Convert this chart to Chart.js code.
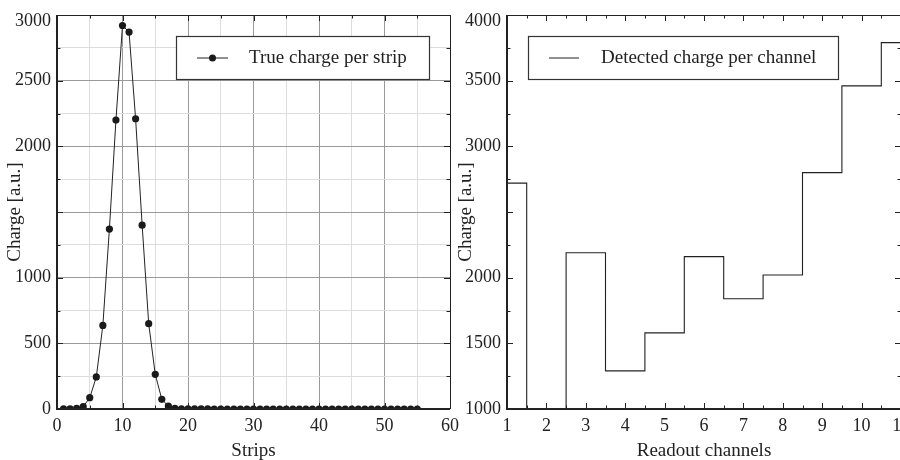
<!DOCTYPE html>
<html>
<head>
<meta charset="utf-8">
<script src="https://cdn.jsdelivr.net/npm/chart.js@4.4.1/dist/chart.umd.min.js"></script>
<style>
  html, body { margin: 0; padding: 0; background: #fff; }
  #wrap { position: relative; width: 900px; height: 460px; overflow: hidden; background: #fff; }
  #left { position: absolute; left: 0; top: 0; }
  #right { position: absolute; left: 455px; top: 0; }
</style>
</head>
<body>
<div id="wrap">
  <canvas id="left" width="460" height="460"></canvas>
  <canvas id="right" width="460" height="460"></canvas>
</div>
<script>
// ---- Left panel: true charge per strip ----
const strips = [1, 2, 3, 4, 5, 6, 7, 8, 9, 10, 11, 12, 13, 14, 15, 16, 17, 18, 19, 20,
                21, 22, 23, 24, 25, 26, 27, 28, 29, 30, 31, 32, 33, 34, 35, 36, 37, 38, 39, 40,
                41, 42, 43, 44, 45, 46, 47, 48, 49, 50, 51, 52, 53, 54, 55];
const trueCharge = [1, 2, 5, 18, 86, 244, 636, 1370, 2200, 2920, 2870, 2210, 1400, 650, 264, 74, 22, 4, 2, 1,
                    1, 1, 1, 0, 0, 0, 0, 0, 0, 0, 0, 0, 0, 0, 0, 0, 0, 0, 0, 0,
                    0, 0, 0, 0, 0, 0, 0, 0, 0, 0, 0, 0, 0, 0, 0];
const stripTickLabels = [0, 10, 20, 30, 40, 50, 60];
const leftChargeTickLabels = [0, 500, 1000, 2000, 2500, 3000];

// ---- Right panel: detected charge per readout channel ----
const channels = [1, 2, 3, 4, 5, 6, 7, 8, 9, 10, 11];
const detectedCharge = [2720, 0, 2190, 1290, 1580, 2160, 1840, 2020, 2800, 3460, 3790];
const channelTickLabels = [1, 2, 3, 4, 5, 6, 7, 8, 9, 10, 11];
const rightChargeTickLabels = [1000, 1500, 2000, 3000, 3500, 4000];

const SERIF = '"Liberation Serif", "Times New Roman", serif';
const INK = '#222';
Chart.defaults.font.family = SERIF;
Chart.defaults.color = INK;

const near = (v, step) => Math.abs(v / step - Math.round(v / step)) < 1e-6;

// Keep the plot area fixed: axis boxes have set sizes and no edge padding for end labels
const fixX = h => s => { s.height = h; s.paddingLeft = 0; s.paddingRight = 0; };
const fixY = w => s => { s.width = w; s.paddingTop = 0; s.paddingBottom = 0; };

// y tick labels; the label at the top of the axis sits just below the frame edge
const yLabel = (shown, top) => v => {
  if (!shown.includes(v)) return '';
  return v === top ? ['', String(v)] : String(v);
};
const yFont = top => c => (c.tick && c.tick.value === top) ? { size: 18, lineHeight: 0.72 } : { size: 18 };

// Frame with inward tick marks on all four sides
const frameTicks = {
  id: 'frameTicks',
  afterDraw(chart, args, o) {
    const { ctx, chartArea: a, scales: { x, y } } = chart;
    ctx.save();
    ctx.strokeStyle = INK;
    ctx.lineWidth = 1;
    const seg = (x1, y1, x2, y2) => { ctx.beginPath(); ctx.moveTo(x1, y1); ctx.lineTo(x2, y2); ctx.stroke(); };
    for (let v = x.min; v <= x.max + 1e-9; v += o.xStep) {
      const px = Math.round(x.getPixelForValue(v)) + 0.5;
      const len = near(v, o.xMajor) ? 6 : 3.5;
      seg(px, a.bottom, px, a.bottom - len);
      seg(px, a.top, px, a.top + len);
    }
    for (let v = y.min; v <= y.max + 1e-9; v += o.yStep) {
      const py = Math.round(y.getPixelForValue(v)) + 0.5;
      const len = near(v, o.yMajor) ? 6 : 3.5;
      seg(a.left, py, a.left + len, py);
      seg(a.right, py, a.right - len, py);
    }
    // top and right edges thin, left and bottom heavier
    seg(a.left, a.top + 0.5, a.right, a.top + 0.5);
    seg(Math.round(a.right) + 0.5, a.top, Math.round(a.right) + 0.5, a.bottom);
    ctx.lineWidth = 2;
    seg(a.left, a.bottom, a.right, a.bottom);
    seg(a.left, a.top, a.left, a.bottom + 1);
    ctx.restore();
  }
};

// Boxed legend drawn inside the plot area
const boxLegend = {
  id: 'boxLegend',
  afterDraw(chart, args, o) {
    const ctx = chart.ctx;
    const ds = chart.data.datasets[0];
    ctx.save();
    ctx.fillStyle = '#fff';
    ctx.fillRect(o.x, o.y, o.w, o.h);
    ctx.strokeStyle = '#333';
    ctx.lineWidth = 1.2;
    ctx.strokeRect(o.x + 0.5, o.y + 0.5, o.w, o.h);
    const cy = o.y + o.h / 2 + 0.5;
    ctx.strokeStyle = INK;
    ctx.lineWidth = 1;
    ctx.beginPath();
    ctx.moveTo(o.lineX0, cy);
    ctx.lineTo(o.lineX1, cy);
    ctx.stroke();
    if (o.marker) {
      ctx.fillStyle = '#1a1a1a';
      ctx.beginPath();
      ctx.arc((o.lineX0 + o.lineX1) / 2, cy, 3.5, 0, Math.PI * 2);
      ctx.fill();
    }
    ctx.fillStyle = INK;
    ctx.font = '19px ' + SERIF;
    ctx.textBaseline = 'middle';
    ctx.textAlign = 'left';
    ctx.fillText(ds.label, o.textX, cy);
    ctx.restore();
  }
};

const tickFont = { size: 18 };
const titleFont = { size: 19 };

new Chart(document.getElementById('left'), {
  type: 'scatter',
  data: {
    datasets: [{
      label: 'True charge per strip',
      data: strips.map((s, i) => ({ x: s, y: trueCharge[i] })),
      showLine: true,
      borderColor: INK,
      borderWidth: 1,
      pointRadius: 3.6,
      pointBackgroundColor: '#1a1a1a',
      pointBorderColor: '#1a1a1a',
      pointBorderWidth: 0
    }]
  },
  options: {
    responsive: false,
    animation: false,
    devicePixelRatio: 1,
    layout: { padding: { top: 15, right: 10, left: 0, bottom: 0 } },
    plugins: {
      legend: { display: false },
      tooltip: { enabled: false },
      frameTicks: { xStep: 5, xMajor: 10, yStep: 250, yMajor: 500 },
      boxLegend: { x: 176, y: 36, w: 253, h: 43, lineX0: 197, lineX1: 228, textX: 249, marker: true }
    },
    scales: {
      x: {
        type: 'linear', min: 0, max: 60,
        afterFit: fixX(51),
        ticks: {
          stepSize: 5, autoSkip: false, maxRotation: 0, padding: 6, font: tickFont, color: INK,
          callback: v => stripTickLabels.includes(v) ? String(v) : ''
        },
        grid: {
          drawTicks: false,
          color: c => near(c.tick.value, 10) ? '#9a9a9a' : '#dddddd',
          lineWidth: 1
        },
        border: { display: false },
        title: { display: true, text: 'Strips', font: titleFont, color: INK, padding: { top: 0, bottom: -2 } }
      },
      y: {
        type: 'linear', min: 0, max: 3000,
        afterFit: fixY(57),
        ticks: {
          stepSize: 250, autoSkip: false, padding: 6, font: yFont(3000), color: INK,
          callback: yLabel(leftChargeTickLabels, 3000)
        },
        grid: {
          drawTicks: false,
          color: c => near(c.tick.value, 500) ? '#9a9a9a' : '#dddddd',
          lineWidth: 1
        },
        border: { display: false },
        title: { display: true, text: 'Charge [a.u.]', font: titleFont, color: INK, padding: { top: 4, bottom: 0 } }
      }
    }
  },
  plugins: [frameTicks, boxLegend]
});

new Chart(document.getElementById('right'), {
  type: 'line',
  data: {
    datasets: [{
      label: 'Detected charge per channel',
      data: channels.map((c, i) => ({ x: c, y: detectedCharge[i] })),
      stepped: 'middle',
      borderColor: INK,
      borderWidth: 1.1,
      pointRadius: 0,
      fill: false
    }]
  },
  options: {
    responsive: false,
    animation: false,
    devicePixelRatio: 1,
    layout: { padding: { top: 15, right: 14, left: 0, bottom: 0 } },
    plugins: {
      legend: { display: false },
      tooltip: { enabled: false },
      frameTicks: { xStep: 0.5, xMajor: 1, yStep: 250, yMajor: 500 },
      boxLegend: { x: 73, y: 36, w: 310, h: 43, lineX0: 94, lineX1: 124, textX: 146, marker: false }
    },
    scales: {
      x: {
        type: 'linear', min: 1, max: 11,
        afterFit: fixX(51),
        ticks: {
          stepSize: 1, autoSkip: false, maxRotation: 0, padding: 6, font: tickFont, color: INK,
          callback: v => channelTickLabels.includes(v) ? String(v) : ''
        },
        grid: { display: false, drawTicks: false },
        border: { display: false },
        title: { display: true, text: 'Readout channels', font: titleFont, color: INK, padding: { top: 0, bottom: -2 } }
      },
      y: {
        type: 'linear', min: 1000, max: 4000,
        afterFit: fixY(52),
        ticks: {
          stepSize: 250, autoSkip: false, padding: 6, font: yFont(4000), color: INK,
          callback: yLabel(rightChargeTickLabels, 4000)
        },
        grid: { display: false, drawTicks: false },
        border: { display: false },
        title: { display: true, text: 'Charge [a.u.]', font: titleFont, color: INK, padding: { top: 0, bottom: 0 } }
      }
    }
  },
  plugins: [frameTicks, boxLegend]
});
</script>
</body>
</html>
